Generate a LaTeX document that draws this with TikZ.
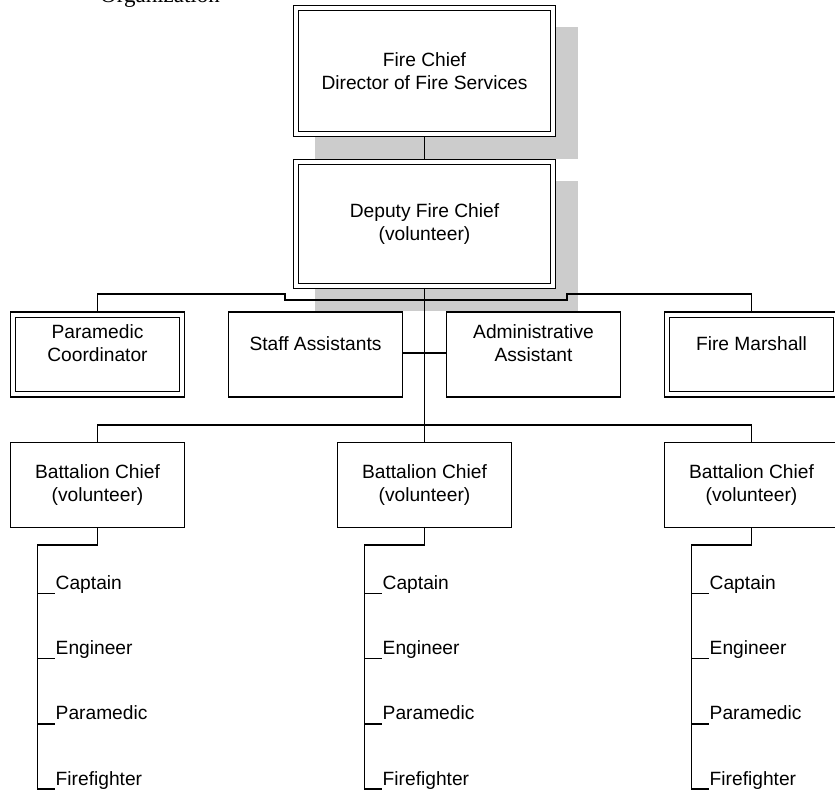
\documentclass[tikz,border=0pt]{standalone}
\usepackage{fontspec}
\setmainfont{Liberation Sans}
\newfontfamily\titlefont{Liberation Serif}
\usetikzlibrary{calc,backgrounds}

\newcommand{\unitfont}{\fontsize{19.2}{23}\selectfont}

\begin{document}
\begin{tikzpicture}[x=1pt, y=-1pt,
    unit/.style={draw, fill=white, line width=1.4pt, inner sep=0pt, align=center, font=\unitfont,
      minimum width=173.6pt, minimum height=84.6pt},
    dbl/.style={double, double distance=4pt, line width=1.2pt, outer sep=3.2pt},
    boxd/.style={unit, dbl, minimum width=168.6pt, minimum height=79.6pt},
    head/.style={unit, dbl, minimum width=256.6pt},
    role/.style={align=center, font=\unitfont, inner sep=0pt},
    rank/.style={font=\unitfont, inner sep=1pt, anchor=base west},
    link/.style={line width=1.5pt}]
    \useasboundingbox (0,0) rectangle (835,791);

    \node[anchor=base west, inner sep=0pt, font=\titlefont\fontsize{23}{26}\selectfont] (org) at (100,3) {Organization};

    % chiefs
    \node[head, minimum height=125.6pt] (chief) at (424.5,71) {Fire Chief\\Director of Fire Services};
    \node[head, minimum height=123.6pt] (deputy) at (424.5,224) {Deputy Fire Chief\\(volunteer)};
    \begin{scope}[on background layer]
        \foreach \n in {chief,deputy}
            \fill[black!20] ([shift={(22,22)}]\n.north west) rectangle ([shift={(22,22)}]\n.south east);
    \end{scope}

    % staff row
    \node[boxd] (pmc) at (97.5,354.5) {};
    \node[unit] (staff) at (315.5,354.5) {};
    \node[unit] (admin) at (533.5,354.5) {};
    \node[boxd] (marshal) at (751.5,354.5) {};
    \node[role] (pmc-t) at ([yshift=11pt]pmc.center) {Paramedic\\Coordinator};
    \node[role] (staff-t) at ([yshift=11pt]staff.center) {Staff Assistants};
    \node[role] (admin-t) at ([yshift=11pt]admin.center) {Administrative\\Assistant};
    \node[role] (marshal-t) at ([yshift=11pt]marshal.center) {Fire Marshall};

    % battalions
    \foreach \n/\x in {bcA/97.5, bcB/424.5, bcC/751.5}
        \node[unit] (\n) at (\x,485) {Battalion Chief\\(volunteer)};

    \draw[link] (chief.south) -- (deputy.north);
    \draw[link] (deputy.south) -- (bcB.north);
    \draw[link] (pmc.north) |- (285,294) -- (285,300) -| (567,294) -| (marshal.north);
    \draw[link] ([yshift=1.5pt]staff.east) -- ([yshift=1.5pt]staff.east -| deputy.south);
    \draw[link] ([yshift=1.5pt]admin.west) -- ([yshift=1.5pt]admin.west -| deputy.south);
    \draw[link] (bcA.north) -- ++(0,-17) -| (bcC.north);

    % ranks under each battalion chief
    \foreach \n in {bcA,bcB,bcC}{
        \foreach \r [count=\i] in {Captain,Engineer,Paramedic,Firefighter}
            \node[rank] (\n-\i) at ($(\n.south)+(-43,65.3*\i-4)$) {\r};
        \draw[link] (\n.south) -- ++(0,17) -| ([shift={(-17,4)}]\n-4.base west) -- ++(17,0);
        \foreach \i in {1,2,3}
            \draw[link] ([shift={(0,4)}]\n-\i.base west) -- ++(-17,0);
    }
\end{tikzpicture}
\end{document}
